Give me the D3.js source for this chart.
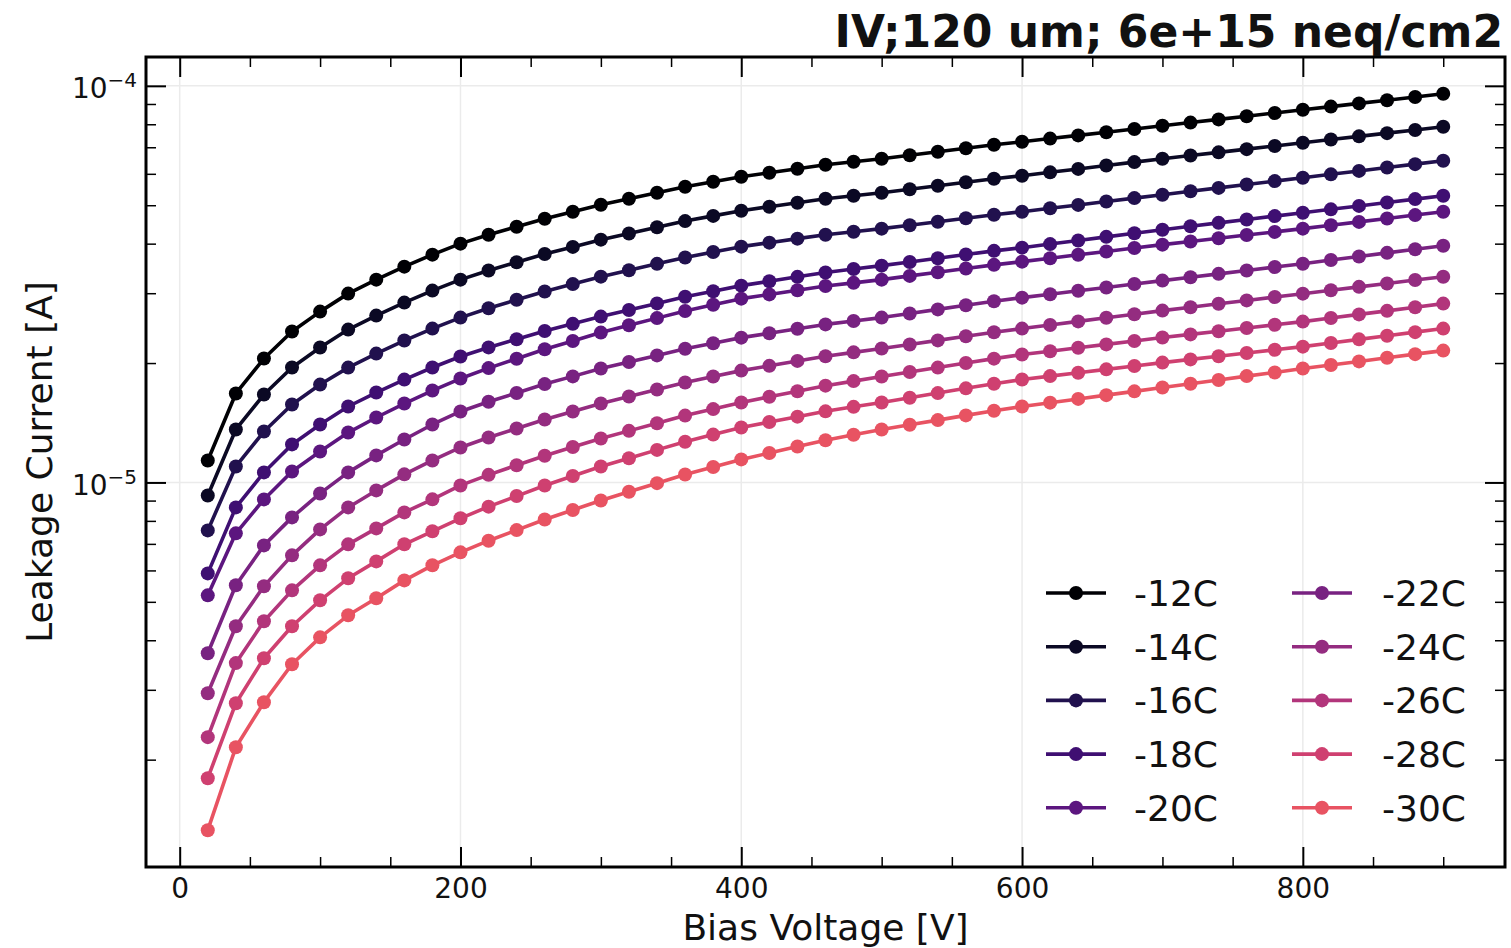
<!DOCTYPE html>
<html>
<head>
<meta charset="utf-8">
<script src="https://cdn.jsdelivr.net/npm/d3@7"></script>
<style>
  body { margin: 0; background: #ffffff; }
  svg { display: block; }
  text { font-family: "DejaVu Sans", sans-serif; fill: #111; }
</style>
</head>
<body>
<svg id="chart" width="1511" height="948"></svg>
<script>
// Bias voltage steps [V]
const voltages = [20, 40, 60, 80, 100, 120, 140, 160, 180, 200,
  220, 240, 260, 280, 300, 320, 340, 360, 380, 400,
  420, 440, 460, 480, 500, 520, 540, 560, 580, 600,
  620, 640, 660, 680, 700, 720, 740, 760, 780, 800,
  820, 840, 860, 880, 900];

// Temperature labels, one per curve
const temperatures = ["-12C", "-14C", "-16C", "-18C", "-20C", "-22C", "-24C", "-26C", "-28C", "-30C"];

// Leakage current per temperature, in microamperes
const current_m12C = [11.36, 16.76, 20.53, 24.01, 26.96, 29.93, 32.46, 35.00, 37.53, 40.00,
  42.14, 44.14, 46.24, 48.14, 50.15, 51.93, 53.77, 55.67, 57.31, 58.99,
  60.38, 61.80, 63.24, 64.35, 65.49, 66.83, 68.20, 69.60, 71.02, 72.27,
  73.62, 75.00, 76.41, 77.84, 79.30, 80.79, 82.30, 83.84, 85.41, 87.01,
  88.64, 90.30, 91.99, 93.72, 95.47];
const current_m14C = [9.273, 13.60, 16.66, 19.49, 21.88, 24.29, 26.34, 28.41, 30.46, 32.46,
  34.24, 35.91, 37.66, 39.25, 40.94, 42.44, 44.00, 45.60, 47.00, 48.44,
  49.58, 50.74, 51.93, 52.84, 53.77, 54.87, 56.00, 57.15, 58.31, 59.34,
  60.52, 61.73, 62.96, 64.22, 65.49, 66.72, 67.97, 69.24, 70.54, 71.86,
  73.21, 74.58, 75.98, 77.40, 78.85];
const current_m16C = [7.569, 10.97, 13.44, 15.72, 17.65, 19.48, 21.13, 22.79, 24.43, 26.04,
  27.50, 28.87, 30.31, 31.63, 33.03, 34.28, 35.58, 36.92, 38.10, 39.31,
  40.23, 41.18, 42.14, 42.88, 43.64, 44.53, 45.44, 46.37, 47.32, 48.15,
  49.11, 50.09, 51.09, 52.11, 53.15, 54.21, 55.29, 56.38, 57.51, 58.65,
  59.82, 61.02, 62.22, 63.47, 64.73];
const current_m18C = [5.898, 8.652, 10.60, 12.47, 14.00, 15.54, 16.85, 18.17, 19.49, 20.77,
  21.90, 22.97, 24.09, 25.11, 26.19, 27.21, 28.28, 29.38, 30.35, 31.35,
  32.16, 32.99, 33.84, 34.52, 35.21, 35.97, 36.75, 37.55, 38.36, 39.08,
  39.90, 40.74, 41.61, 42.48, 43.38, 44.24, 45.13, 46.02, 46.94, 47.87,
  48.82, 49.80, 50.79, 51.81, 52.83];
const current_m20C = [5.192, 7.441, 9.062, 10.66, 11.97, 13.36, 14.58, 15.81, 17.05, 18.28,
  19.42, 20.51, 21.66, 22.73, 23.87, 24.90, 25.96, 27.06, 28.05, 29.07,
  29.79, 30.53, 31.27, 31.86, 32.46, 33.17, 33.89, 34.62, 35.37, 36.03,
  36.75, 37.49, 38.23, 38.99, 39.77, 40.52, 41.27, 42.05, 42.83, 43.64,
  44.51, 45.39, 46.29, 47.22, 48.15];
const current_m22C = [3.709, 5.504, 6.939, 8.163, 9.382, 10.60, 11.70, 12.83, 14.00, 15.10,
  15.98, 16.81, 17.70, 18.51, 19.37, 20.13, 20.91, 21.73, 22.44, 23.18,
  23.78, 24.40, 25.03, 25.53, 26.04, 26.67, 27.31, 27.97, 28.64, 29.24,
  29.82, 30.42, 31.02, 31.64, 32.28, 32.92, 33.57, 34.24, 34.92, 35.61,
  36.37, 37.13, 37.92, 38.72, 39.53];
const current_m24C = [2.941, 4.339, 5.471, 6.548, 7.614, 8.650, 9.547, 10.48, 11.36, 12.25,
  12.98, 13.68, 14.41, 15.09, 15.81, 16.47, 17.15, 17.86, 18.49, 19.14,
  19.68, 20.25, 20.81, 21.28, 21.76, 22.28, 22.81, 23.36, 23.92, 24.43,
  24.94, 25.47, 26.01, 26.56, 27.12, 27.66, 28.21, 28.77, 29.34, 29.92,
  30.52, 31.13, 31.75, 32.38, 33.02];
const current_m26C = [2.279, 3.503, 4.465, 5.345, 6.179, 6.980, 7.657, 8.404, 9.064, 9.828,
  10.45, 11.05, 11.68, 12.28, 12.91, 13.49, 14.10, 14.74, 15.31, 15.90,
  16.44, 16.98, 17.54, 18.01, 18.49, 18.99, 19.48, 20.00, 20.52, 21.01,
  21.42, 21.86, 22.29, 22.74, 23.19, 23.62, 24.06, 24.51, 24.97, 25.44,
  25.98, 26.53, 27.08, 27.66, 28.24];
const current_m28C = [1.796, 2.775, 3.603, 4.339, 5.044, 5.732, 6.323, 6.983, 7.529, 8.120,
  8.689, 9.239, 9.826, 10.38, 10.97, 11.51, 12.08, 12.66, 13.20, 13.76,
  14.20, 14.65, 15.11, 15.51, 15.91, 16.35, 16.80, 17.27, 17.74, 18.18,
  18.54, 18.91, 19.28, 19.66, 20.05, 20.43, 20.81, 21.20, 21.60, 22.00,
  22.47, 22.95, 23.43, 23.93, 24.43];
const current_m30C = [1.328, 2.150, 2.792, 3.479, 4.068, 4.624, 5.103, 5.663, 6.181, 6.664,
  7.130, 7.583, 8.064, 8.521, 9.007, 9.472, 9.958, 10.47, 10.94, 11.43,
  11.86, 12.32, 12.78, 13.19, 13.60, 13.98, 14.36, 14.76, 15.16, 15.54,
  15.89, 16.24, 16.60, 16.97, 17.35, 17.74, 18.13, 18.54, 18.94, 19.37,
  19.78, 20.19, 20.62, 21.06, 21.50];

// Axis tick values
const xMajorTicks = [0, 200, 400, 600, 800];
const xMinorTicks = [50, 100, 150, 250, 300, 350, 450, 500, 550, 650, 700, 750, 850, 900];
const yMajorTicks = [1e-5, 1e-4];
const yMinorTicks = [2e-6, 3e-6, 4e-6, 5e-6, 6e-6, 7e-6, 8e-6, 9e-6,
  2e-5, 3e-5, 4e-5, 5e-5, 6e-5, 7e-5, 8e-5, 9e-5];

const titleText = "IV;120 um; 6e+15 neq/cm2";
const xLabel = "Bias Voltage [V]";
const yLabel = "Leakage Current [A]";

// ---- assemble series (µA -> A) ----
const seriesCurrents = [current_m12C, current_m14C, current_m16C, current_m18C, current_m20C,
  current_m22C, current_m24C, current_m26C, current_m28C, current_m30C];
const series = temperatures.map((t, i) => ({
  name: t,
  color: d3.interpolateMagma(i * 0.07),
  points: voltages.map((v, j) => ({ v, i: seriesCurrents[i][j] * 1e-6 }))
}));

const svg = d3.select("#chart");
const plot = { left: 146, top: 57, right: 1505, bottom: 867 };

// Linear x with 5% margins, log y with 5% margins in decades
const vExt = d3.extent(voltages);
const vPad = (vExt[1] - vExt[0]) * 0.05;
const x = d3.scaleLinear().domain([vExt[0] - vPad, vExt[1] + vPad]).range([plot.left, plot.right]);

const allI = series.flatMap(s => s.points.map(p => p.i));
const lo = Math.log10(d3.min(allI)), hi = Math.log10(d3.max(allI));
const lPad = (hi - lo) * 0.05;
const y = d3.scaleLog().domain([10 ** (lo - lPad), 10 ** (hi + lPad)]).range([plot.bottom, plot.top]);

// ---- grid ----
const grid = svg.append("g");
grid.selectAll("line.gx").data(xMajorTicks).join("line")
  .attr("x1", d => x(d)).attr("x2", d => x(d))
  .attr("y1", plot.top).attr("y2", plot.bottom)
  .attr("stroke", "#ebebeb").attr("stroke-width", 1.5);
grid.selectAll("line.gy").data(yMajorTicks).join("line")
  .attr("x1", plot.left).attr("x2", plot.right)
  .attr("y1", d => y(d)).attr("y2", d => y(d))
  .attr("stroke", "#ebebeb").attr("stroke-width", 1.5);

// ---- curves ----
const line = d3.line().x(d => x(d.v)).y(d => y(d.i));
const curves = svg.append("g");
series.forEach(s => {
  const g = curves.append("g");
  g.append("path").datum(s.points)
    .attr("d", line).attr("fill", "none")
    .attr("stroke", s.color).attr("stroke-width", 3.6)
    .attr("stroke-linejoin", "round");
  g.selectAll("circle").data(s.points).join("circle")
    .attr("cx", d => x(d.v)).attr("cy", d => y(d.i))
    .attr("r", 7).attr("fill", s.color);
});

// ---- axes (ticks point inward on all four sides) ----
function styleAxis(g, width) {
  g.select(".domain").remove();
  g.selectAll(".tick line").attr("stroke", "#000").attr("stroke-width", width);
}
const MAJ = 20, MIN = 10;

// bottom
svg.append("g").attr("transform", `translate(0,${plot.bottom})`)
  .call(d3.axisBottom(x).tickValues(xMajorTicks).tickSize(-MAJ).tickPadding(11).tickFormat(d3.format("d")))
  .call(g => styleAxis(g, 2))
  .call(g => g.selectAll("text").attr("font-size", 28).attr("font-family", "DejaVu Sans").attr("fill", "#111"));
svg.append("g").attr("transform", `translate(0,${plot.bottom})`)
  .call(d3.axisBottom(x).tickValues(xMinorTicks).tickSize(-MIN).tickFormat(""))
  .call(g => styleAxis(g, 1.5));
// top
svg.append("g").attr("transform", `translate(0,${plot.top})`)
  .call(d3.axisTop(x).tickValues(xMajorTicks).tickSize(-MAJ).tickFormat(""))
  .call(g => styleAxis(g, 2));
svg.append("g").attr("transform", `translate(0,${plot.top})`)
  .call(d3.axisTop(x).tickValues(xMinorTicks).tickSize(-MIN).tickFormat(""))
  .call(g => styleAxis(g, 1.5));
// left
svg.append("g").attr("transform", `translate(${plot.left},0)`)
  .call(d3.axisLeft(y).tickValues(yMajorTicks).tickSize(-MAJ).tickPadding(9).tickFormat(d => "10"))
  .call(g => styleAxis(g, 2))
  .call(g => g.selectAll("text").each(function (d) {
    const t = d3.select(this).text(null)
      .attr("font-size", 28).attr("font-family", "DejaVu Sans").attr("fill", "#111")
      .attr("dy", null).attr("y", 12);
    t.append("tspan").text("10");
    t.append("tspan").attr("font-size", 20).attr("dy", -11)
      .text("\u2212" + Math.abs(Math.round(Math.log10(d))));
  }));
svg.append("g").attr("transform", `translate(${plot.left},0)`)
  .call(d3.axisLeft(y).tickValues(yMinorTicks).tickSize(-MIN).tickFormat(""))
  .call(g => styleAxis(g, 1.5));
// right
svg.append("g").attr("transform", `translate(${plot.right},0)`)
  .call(d3.axisRight(y).tickValues(yMajorTicks).tickSize(-MAJ).tickFormat(""))
  .call(g => styleAxis(g, 2));
svg.append("g").attr("transform", `translate(${plot.right},0)`)
  .call(d3.axisRight(y).tickValues(yMinorTicks).tickSize(-MIN).tickFormat(""))
  .call(g => styleAxis(g, 1.5));

// frame
svg.append("rect")
  .attr("x", plot.left).attr("y", plot.top)
  .attr("width", plot.right - plot.left).attr("height", plot.bottom - plot.top)
  .attr("fill", "none").attr("stroke", "#000").attr("stroke-width", 3);

// ---- labels ----
svg.append("text")
  .attr("x", (plot.left + plot.right) / 2).attr("y", 940)
  .attr("text-anchor", "middle").attr("font-size", 36)
  .text(xLabel);
svg.append("text")
  .attr("transform", `translate(52,${(plot.top + plot.bottom) / 2}) rotate(-90)`)
  .attr("text-anchor", "middle").attr("font-size", 36)
  .text(yLabel);
svg.append("text")
  .attr("x", 1503).attr("y", 47)
  .attr("text-anchor", "end").attr("font-size", 44).attr("font-weight", "bold")
  .text(titleText);

// ---- legend: two columns of five ----
const legend = svg.append("g");
const legRow0 = 593, legRowStep = 53.7;
const legCols = [{ lx: 1046, tx: 1134 }, { lx: 1292, tx: 1382 }];
series.forEach((s, i) => {
  const col = legCols[Math.floor(i / 5)];
  const cy = legRow0 + (i % 5) * legRowStep;
  const item = legend.append("g");
  item.append("line")
    .attr("x1", col.lx).attr("x2", col.lx + 60)
    .attr("y1", cy).attr("y2", cy)
    .attr("stroke", s.color).attr("stroke-width", 3.6);
  item.append("circle").attr("cx", col.lx + 30).attr("cy", cy).attr("r", 7).attr("fill", s.color);
  item.append("text").attr("x", col.tx).attr("y", cy + 13)
    .attr("font-size", 36).text(s.name);
});
</script>
</body>
</html>
